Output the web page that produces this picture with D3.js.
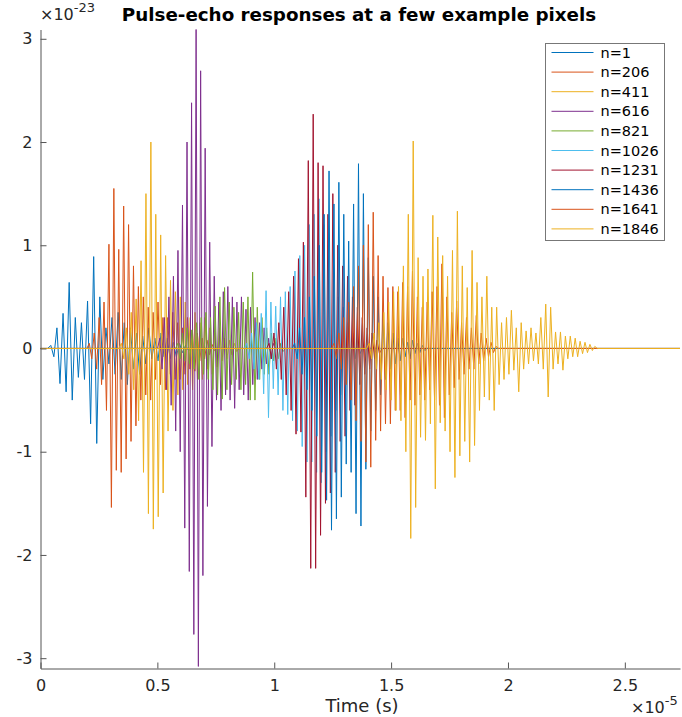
<!DOCTYPE html>
<html>
<head>
<meta charset="utf-8">
<script src="https://cdn.jsdelivr.net/npm/d3@7"></script>
<style>
  html, body { margin: 0; padding: 0; background: #fff; }
  svg { display: block; font-family: "DejaVu Sans", sans-serif; }
</style>
</head>
<body>
<svg id="chart" width="682" height="717"></svg>
<script>
// Pulse-echo traces, time in units of 1e-5 s, amplitude in units of 1e-23.
const seriesLabels = ["n=1", "n=206", "n=411", "n=616", "n=821", "n=1026", "n=1231", "n=1436", "n=1641", "n=1846"];
const seriesColors = ["#0072BD", "#D95319", "#EDB120", "#7E2F8E", "#77AC30", "#4DBEEE", "#A2142F", "#0072BD", "#D95319", "#EDB120"];

// Start of each trace's active window and its sample spacing (1e-5 s).
const traceStart = [0.0441, 0.2088, 0.3462, 0.5105, 0.5875, 0.8827, 0.9777, 1.0875, 1.2555, 1.4056];
const traceStep = [0.0131, 0.0105, 0.0105, 0.0097, 0.0100, 0.0103, 0.0105, 0.0105, 0.0105, 0.0105];

const trace1 = [0.03, -0.08, 0.2, -0.34, 0.34, -0.42, 0.64, -0.5, 0.3, -0.28, 0.25, -0.3, 0.46, -0.73, 0.89, -0.92,
  0.5, -0.3, 0.2, -0.15, 0.3, -0.25, 0.35, -0.3, 0.25, -0.35, 0.2, -0.2, 0.15, -0.25, 0.12, -0.15, 0.2, -0.1,
  0.1, -0.12, 0.15, -0.08, 0.1, -0.1, 0.06, -0.08, 0.05, -0.04, 0.03, -0.02];
const trace206 = [0.05, -0.1, 0.15, -0.2, 0.3, -0.35, 0.45, -0.6, 1.01, -1.54, 1.55, -1.18, 0.96, -1.2, 1.38, -1.07,
  1.2, -0.9, 0.8, -0.75, 0.6, -0.5, 0.5, -0.45, 0.4, -0.5, 0.35, -0.3, 0.45, -0.35, 0.3, -0.4, 0.3, -0.25,
  0.35, -0.3, 0.25, -0.3, 0.2, -0.25, 0.3, -0.2, 0.18, -0.22, 0.15, -0.12, 0.1, -0.1, 0.08, -0.06, 0.04, -0.02];
const trace411 = [0.05, -0.1, 0.2, -0.25, 0.35, -0.4, 0.48, -0.7, 0.85, -1.2, 1.5, -1.6, 2.0, -1.75, 1.3, -1.63,
  1.1, -1.4, 0.9, -0.8, 0.66, -0.6, 0.55, -0.45, 0.5, -0.4, 0.45, -0.35, 0.3, -0.4, 0.35, -0.3, 0.25, -0.3,
  0.3, -0.2, 0.2, -0.25, 0.15, -0.18, 0.2, -0.12, 0.1, -0.1, 0.08, -0.06, 0.05, -0.03];
const trace616 = [0.1, -0.2, 0.3, -0.4, 0.5, -0.55, 0.7, -0.8, 0.95, -1.0, 1.39, -1.74, 2.0, -2.16, 2.38, -2.77,
  3.09, -3.08, 2.69, -2.2, 1.94, -1.53, 1.03, -0.95, 0.7, -0.5, 0.45, -0.6, 0.55, -0.45, 0.6, -0.5, 0.5, -0.58,
  0.45, -0.4, 0.5, -0.45, 0.38, -0.5, 0.4, -0.35, 0.3, -0.3, 0.25, -0.2, 0.2, -0.15, 0.1, -0.1, 0.05];
const trace821 = [0.05, -0.1, 0.15, -0.12, 0.2, -0.15, 0.18, -0.2, 0.25, -0.3, 0.3, -0.25, 0.35, -0.3, 0.3, -0.4,
  0.41, -0.45, 0.5, -0.49, 0.59, -0.4, 0.45, -0.35, 0.4, -0.3, 0.35, -0.4, 0.45, -0.35, 0.5, -0.5, 0.74, -0.5,
  0.4, -0.3, 0.3, -0.25, 0.2, -0.25, 0.15, -0.12, 0.1, -0.1, 0.05, -0.03];
const trace1026 = [0.05, -0.1, 0.15, -0.2, 0.25, -0.3, 0.34, -0.44, 0.56, -0.67, 0.45, -0.39, 0.41, -0.45, 0.5, -0.6,
  0.55, -0.64, 0.6, -0.7, 0.75, -0.8, 0.9, -0.95, 1.0, -1.1, 1.2, -1.1, 1.3, -1.2, 1.45, -1.3, 1.2, -1.0,
  0.9, -0.85, 0.7, -0.6, 0.5, -0.45, 0.4, -0.3, 0.25, -0.2, 0.15, -0.1, 0.08, -0.05];
const trace1231 = [0.05, -0.1, 0.15, -0.2, 0.25, -0.3, 0.4, -0.45, 0.55, -0.6, 0.7, -0.83, 0.87, -0.81, 1.03, -1.44,
  1.82, -2.13, 2.27, -2.13, 1.8, -1.81, 1.77, -1.5, 1.3, -1.4, 1.5, -1.2, 1.0, -0.9, 0.8, -0.85, 0.7, -0.6,
  0.5, -0.55, 0.4, -0.35, 0.3, -0.25, 0.2, -0.2, 0.15, -0.1, 0.08, -0.05];
const trace1436 = [0.05, -0.1, 0.2, -0.25, 0.3, -0.4, 0.5, -0.6, 0.7, -0.85, 1.0, -1.2, 1.3, -1.47, 1.72, -1.76,
  1.4, -1.65, 1.61, -1.44, 1.3, -1.12, 1.04, -1.2, 1.4, -1.6, 1.79, -1.72, 1.5, -1.17, 0.88, -0.8, 0.7, -0.6,
  0.5, -0.45, 0.35, -0.3, 0.25, -0.2, 0.15, -0.15, 0.1, -0.12, 0.1, -0.08, 0.06, -0.1, 0.08, -0.05, 0.05, -0.04,
  0.03, -0.02];
const trace1641 = [0.05, -0.1, 0.15, -0.2, 0.3, -0.35, 0.45, -0.5, 0.6, -0.7, 0.8, -0.9, 1.0, -1.1, 1.2, -1.15,
  1.32, -0.89, 0.9, -0.8, 0.7, -0.73, 0.59, -0.73, 0.6, -0.6, 0.55, -0.6, 0.64, -0.67, 0.6, -0.5, 0.75, -0.55,
  0.5, -0.45, 0.4, -0.5, 0.45, -0.4, 0.55, -0.5, 0.6, -0.55, 0.82, -0.67, 0.5, -0.45, 0.35, -0.38, 0.46, -0.3,
  0.25, -0.25, 0.3, -0.2, 0.2, -0.2, 0.32, -0.15, 0.15, -0.12, 0.1, -0.08, 0.06, -0.04, 0.02];
const trace1846 = [0.05, -0.1, 0.15, -0.2, 0.25, -0.3, 0.35, -0.4, 0.45, -0.5, 0.55, -0.6, 0.6, -0.7, 0.8, -1.0,
  1.3, -1.84, 2.01, -1.54, 0.88, -0.86, 0.7, -0.89, 0.77, -0.73, 1.29, -1.36, 1.08, -0.72, 0.9, -0.8, 0.7, -1.0,
  0.95, -1.25, 1.33, -1.04, 0.8, -0.9, 0.59, -1.1, 0.95, -0.94, 0.64, -0.6, 0.5, -0.47, 0.7, -0.5, 0.4, -0.6,
  0.4, -0.35, 0.25, -0.3, 0.3, -0.25, 0.37, -0.21, 0.2, -0.42, 0.25, -0.2, 0.17, -0.15, 0.2, -0.12, 0.15, -0.15,
  0.3, -0.2, 0.43, -0.47, 0.4, -0.2, 0.16, -0.15, 0.16, -0.21, 0.12, -0.1, 0.12, -0.08, 0.1, -0.08, 0.07, -0.05,
  0.06, -0.04, 0.04, -0.02, 0.02];
const traces = [trace1, trace206, trace411, trace616, trace821, trace1026, trace1231, trace1436, trace1641, trace1846];

const timeLimits = [0, 2.736];
const valueLimits = [-3.1, 3.09];
const xTicks = [0, 0.5, 1, 1.5, 2, 2.5];
const yTicks = [-3, -2, -1, 0, 1, 2, 3];

const svg = d3.select("#chart");
const plot = { left: 40.5, right: 680, top: 29.5, bottom: 668.5 };

const x = d3.scaleLinear().domain(timeLimits).range([plot.left, plot.right]);
const y = d3.scaleLinear().domain(valueLimits).range([plot.bottom, plot.top]);

// Each trace is zero outside its active window (one zero sample on either side).
function tracePoints(k) {
  const vals = traces[k], t0 = traceStart[k], dt = traceStep[k];
  const pts = [[timeLimits[0], 0], [t0 - dt, 0]];
  vals.forEach((v, i) => pts.push([t0 + i * dt, v]));
  pts.push([t0 + vals.length * dt, 0]);
  pts.push([timeLimits[1], 0]);
  return pts;
}

const line = d3.line().x(d => x(d[0])).y(d => y(d[1]));

const gLines = svg.append("g");
traces.forEach((t, k) => {
  gLines.append("path")
    .attr("d", line(tracePoints(k)))
    .attr("fill", "none")
    .attr("stroke", seriesColors[k])
    .attr("stroke-width", 1)
    .attr("stroke-linejoin", "miter")
    .attr("stroke-miterlimit", 10);
});

// Axes with inward ticks
const axisColor = "#555";
const textColor = "#262626";

const yAxis = svg.append("g")
  .attr("transform", `translate(${plot.left},0)`)
  .call(d3.axisLeft(y).tickValues(yTicks).tickSizeInner(-6).tickSizeOuter(0).tickPadding(8)
    .tickFormat(d3.format("d")));
const xAxis = svg.append("g")
  .attr("transform", `translate(0,${plot.bottom})`)
  .call(d3.axisBottom(x).tickValues(xTicks).tickSizeInner(-6).tickSizeOuter(0).tickPadding(11)
    .tickFormat(d => String(d)));

[yAxis, xAxis].forEach(g => {
  g.select(".domain").attr("stroke", axisColor);
  g.selectAll(".tick line").attr("stroke", axisColor);
  g.selectAll(".tick text").attr("fill", textColor)
    .style("font-family", "DejaVu Sans, sans-serif").style("font-size", "16px");
});
yAxis.selectAll(".tick text").text(d => d < 0 ? "-" + Math.abs(d) : String(d));

// Title
svg.append("text")
  .attr("x", 359)
  .attr("y", 21)
  .attr("text-anchor", "middle")
  .attr("font-weight", "bold")
  .attr("font-size", 18.3)
  .attr("fill", "#000")
  .text("Pulse-echo responses at a few example pixels");

// X label
svg.append("text")
  .attr("x", 362)
  .attr("y", 712)
  .attr("text-anchor", "middle")
  .attr("font-size", 18)
  .attr("fill", textColor)
  .text("Time (s)");

// Exponent annotations
function exponentLabel(xPos, yPos, base, power) {
  const t = svg.append("text").attr("x", xPos).attr("y", yPos).attr("fill", textColor).attr("font-size", 16);
  t.append("tspan").text(base);
  t.append("tspan").attr("dy", -8).attr("font-size", 13).text(power);
}
exponentLabel(40, 20, "\u00d710", "-23");
exponentLabel(631, 713, "\u00d710", "-5");

// Legend
const legend = svg.append("g").attr("transform", "translate(545.5,43.5)");
legend.append("rect")
  .attr("width", 119).attr("height", 197)
  .attr("fill", "#fff").attr("stroke", "#777").attr("stroke-width", 1);
seriesLabels.forEach((lab, k) => {
  const yy = 9 + k * 19.6;
  legend.append("line")
    .attr("x1", 6).attr("x2", 48).attr("y1", yy).attr("y2", yy)
    .attr("stroke", seriesColors[k]).attr("stroke-width", 1);
  legend.append("text")
    .attr("x", 55).attr("y", yy + 5)
    .attr("font-size", 14.5).attr("fill", "#000")
    .text(lab);
});
</script>
</body>
</html>
